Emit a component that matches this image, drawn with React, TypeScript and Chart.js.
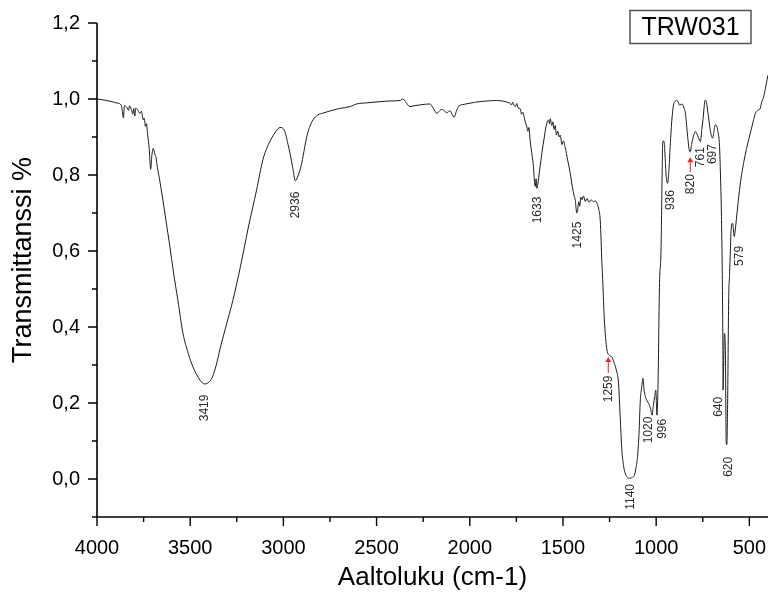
import React, { useEffect, useRef } from "react";
import { Chart, registerables } from "chart.js";

Chart.register(...registerables);

// ---- data ----
const wavenumber = [
  4000, 3960, 3920, 3890, 3870, 3862, 3858, 3853, 3840, 3830, 3826, 3815, 3808, 3803, 3797, 3792,
  3780, 3770, 3762, 3752, 3747, 3740, 3735, 3728, 3720, 3712, 3706, 3698, 3690, 3683, 3676, 3665,
  3650, 3630, 3610, 3590, 3566, 3539, 3510, 3485, 3447, 3421, 3400, 3384, 3360, 3341, 3320, 3298,
  3271, 3230, 3189, 3144, 3110, 3085, 3063, 3040, 3018, 2995, 2975, 2965, 2950, 2936, 2920, 2902,
  2885, 2875, 2860, 2841, 2815, 2787, 2740, 2700, 2642, 2607, 2550, 2482, 2420, 2374, 2365, 2358,
  2345, 2321, 2300, 2260, 2214, 2195, 2177, 2160, 2150, 2135, 2123, 2106, 2095, 2084, 2072, 2061,
  2030, 1998, 1950, 1900, 1855, 1820, 1790, 1775, 1770, 1766, 1755, 1748, 1740, 1730, 1722, 1715,
  1705, 1694, 1688, 1683, 1676, 1668, 1660, 1649, 1644, 1640, 1635, 1631, 1622, 1613, 1600, 1590,
  1578, 1572, 1568, 1560, 1554, 1548, 1542, 1535, 1528, 1520, 1515, 1505, 1498, 1488, 1475, 1461,
  1450, 1440, 1434, 1426, 1422, 1415, 1410, 1404, 1398, 1390, 1380, 1371, 1360, 1350, 1336, 1325,
  1318, 1308, 1300, 1291, 1286, 1279, 1264, 1250, 1237, 1225, 1214, 1202, 1193, 1184, 1175, 1166,
  1150, 1139, 1128, 1117, 1108, 1100, 1092, 1085, 1078, 1071, 1065, 1058, 1048, 1041, 1030, 1022,
  1015, 1008, 1002, 996, 990, 982, 974, 968, 965, 960, 956, 950, 946, 939, 932, 925,
  915, 907, 895, 888, 880, 874, 861, 850, 843, 831, 824, 817, 810, 805, 795, 790,
  778, 768, 763, 755, 749, 737, 730, 724, 716, 710, 697, 690, 683, 676, 670, 660,
  655, 650, 645, 642, 641, 638, 634, 629, 624, 621, 617, 611, 606, 602, 598, 590,
  581, 577, 570, 557, 545, 531, 515, 504, 490, 480, 468, 455, 441, 435, 423, 415,
  409, 400,
];

const transmittance = [
  1.0, 0.997, 0.993, 0.989, 0.984, 0.96, 0.95, 0.982, 0.978, 0.97, 0.982, 0.972, 0.96, 0.975, 0.955, 0.976,
  0.97, 0.962, 0.968, 0.945, 0.95, 0.928, 0.935, 0.905, 0.87, 0.815, 0.85, 0.87, 0.855, 0.845, 0.82, 0.79,
  0.745, 0.68, 0.615, 0.545, 0.47, 0.384, 0.33, 0.295, 0.26, 0.25, 0.255, 0.265, 0.3, 0.34, 0.38, 0.42,
  0.47, 0.56, 0.66, 0.76, 0.84, 0.875, 0.897, 0.915, 0.925, 0.918, 0.88, 0.858, 0.82, 0.785, 0.8, 0.83,
  0.875, 0.9, 0.925, 0.945, 0.958, 0.963, 0.97, 0.975, 0.98, 0.987, 0.99, 0.993, 0.995, 0.996, 0.999, 1.0,
  0.993, 0.98, 0.982, 0.985, 0.987, 0.975, 0.962, 0.97, 0.973, 0.968, 0.964, 0.969, 0.96, 0.952, 0.968, 0.98,
  0.986, 0.989, 0.993, 0.995, 0.996, 0.994, 0.99, 0.985, 0.992, 0.987, 0.98, 0.988, 0.976, 0.975, 0.96, 0.965,
  0.945, 0.927, 0.915, 0.925, 0.89, 0.86, 0.83, 0.77, 0.79, 0.765, 0.775, 0.79, 0.825, 0.858, 0.9, 0.93,
  0.945, 0.935, 0.948, 0.93, 0.94, 0.92, 0.93, 0.905, 0.915, 0.9, 0.905, 0.88, 0.89, 0.872, 0.84, 0.804,
  0.77, 0.745, 0.734, 0.7, 0.705, 0.73, 0.718, 0.742, 0.735, 0.745, 0.73, 0.738, 0.728, 0.735, 0.73, 0.732,
  0.726, 0.71, 0.68, 0.568, 0.515, 0.427, 0.34, 0.325, 0.32, 0.305, 0.287, 0.252, 0.164, 0.076, 0.035, 0.015,
  0.003, 0.002, 0.004, 0.01, 0.03, 0.059, 0.12, 0.208, 0.24, 0.265, 0.235, 0.217, 0.205, 0.199, 0.185, 0.168,
  0.195, 0.217, 0.234, 0.168, 0.25, 0.515, 0.6, 0.8, 0.883, 0.89, 0.88, 0.83, 0.796, 0.778, 0.81, 0.875,
  0.95, 0.984, 0.995, 0.996, 0.99, 0.984, 0.987, 0.975, 0.962, 0.901, 0.87, 0.861, 0.88, 0.892, 0.91, 0.914,
  0.905, 0.892, 0.888, 0.92, 0.945, 0.997, 0.99, 0.971, 0.94, 0.918, 0.897, 0.915, 0.932, 0.93, 0.918, 0.875,
  0.8, 0.7, 0.524, 0.34, 0.234, 0.3, 0.383, 0.349, 0.094, 0.09, 0.182, 0.471, 0.54, 0.6, 0.655, 0.673,
  0.638, 0.65, 0.682, 0.743, 0.79, 0.831, 0.87, 0.892, 0.92, 0.94, 0.962, 0.97, 0.976, 0.99, 1.006, 1.025,
  1.041, 1.063,
];

const xMajorTicks = [4000, 3500, 3000, 2500, 2000, 1500, 1000, 500];
const xMinorTicks = [3750, 3250, 2750, 2250, 1750, 1250, 750];
const yMajorTicks = [0, 0.2, 0.4, 0.6, 0.8, 1.0, 1.2];
const yMinorTicks = [-0.1, 0.1, 0.3, 0.5, 0.7, 0.9, 1.1];

const peakLabels = ["3419", "2936", "1633", "1425", "1259", "1140", "1020", "996", "936", "820", "761", "697", "640", "620", "579"];
const peakLabelWn = [3421, 2932, 1638, 1423, 1257, 1139, 1042, 966, 924, 817, 759, 697, 665, 611, 554];
const peakLabelT = [0.187, 0.721, 0.708, 0.642, 0.237, -0.047, 0.129, 0.132, 0.734, 0.776, 0.847, 0.855, 0.19, 0.032, 0.587];

const arrowWn = [1257, 817];
const arrowFromT = [0.279, 0.808];
const arrowToT = [0.321, 0.847];

const sampleName = "TRW031";
const xTitle = "Aaltoluku (cm-1)";
const yTitle = "Transmittanssi %";

const FONT = "'Liberation Sans', Arial, Helvetica, sans-serif";

const decorPlugin = {
  id: "decor",
  afterDraw(chart: any) {
    const { ctx, chartArea, scales } = chart;
    const xs = scales.x;
    const ys = scales.y;
    const left = chartArea.left;
    const bottom = chartArea.bottom;
    ctx.save();

    // axis lines
    ctx.strokeStyle = "#000";
    ctx.lineWidth = 1.6;
    ctx.beginPath();
    ctx.moveTo(left, ys.getPixelForValue(1.2));
    ctx.lineTo(left, bottom);
    ctx.lineTo(chartArea.right, bottom);
    ctx.stroke();

    // tick marks
    ctx.lineWidth = 1.4;
    ctx.beginPath();
    yMajorTicks.forEach((v) => {
      const p = ys.getPixelForValue(v);
      ctx.moveTo(left - 9, p);
      ctx.lineTo(left, p);
    });
    yMinorTicks.forEach((v) => {
      const p = ys.getPixelForValue(v);
      ctx.moveTo(left - 5, p);
      ctx.lineTo(left, p);
    });
    xMajorTicks.forEach((v) => {
      const p = xs.getPixelForValue(v);
      ctx.moveTo(p, bottom);
      ctx.lineTo(p, bottom + 9);
    });
    xMinorTicks.forEach((v) => {
      const p = xs.getPixelForValue(v);
      ctx.moveTo(p, bottom);
      ctx.lineTo(p, bottom + 5);
    });
    ctx.stroke();

    // peak labels (rotated)
    ctx.fillStyle = "#2b2b2b";
    ctx.font = `12px ${FONT}`;
    ctx.textAlign = "center";
    ctx.textBaseline = "middle";
    peakLabels.forEach((t, i) => {
      const px = xs.getPixelForValue(peakLabelWn[i]);
      const py = ys.getPixelForValue(peakLabelT[i]);
      ctx.save();
      ctx.translate(px, py);
      ctx.rotate(-Math.PI / 2);
      ctx.fillText(t, 0, 0);
      ctx.restore();
    });

    // red arrows
    ctx.strokeStyle = "#e8262a";
    ctx.fillStyle = "#e8262a";
    ctx.lineWidth = 1;
    arrowWn.forEach((w, i) => {
      const px = xs.getPixelForValue(w);
      const y0 = ys.getPixelForValue(arrowFromT[i]);
      const y1 = ys.getPixelForValue(arrowToT[i]);
      ctx.beginPath();
      ctx.moveTo(px, y0);
      ctx.lineTo(px, y1 + 4);
      ctx.stroke();
      ctx.beginPath();
      ctx.moveTo(px, y1);
      ctx.lineTo(px - 3, y1 + 5);
      ctx.lineTo(px + 3, y1 + 5);
      ctx.closePath();
      ctx.fill();
    });

    // sample legend box
    ctx.strokeStyle = "#555";
    ctx.lineWidth = 1.5;
    const bx = 630, by = 10.5, bw = 121, bh = 33;
    ctx.strokeRect(bx, by, bw, bh);
    ctx.fillStyle = "#000";
    ctx.font = `25px ${FONT}`;
    ctx.textAlign = "center";
    ctx.textBaseline = "middle";
    ctx.fillText(sampleName, bx + bw / 2, by + bh / 2 + 1);

    // axis titles
    ctx.font = `26px ${FONT}`;
    ctx.fillText(xTitle, (chartArea.left + chartArea.right) / 2, 578);
    ctx.save();
    ctx.translate(24, 260);
    ctx.rotate(-Math.PI / 2);
    ctx.font = `27px ${FONT}`;
    ctx.fillText(yTitle, 0, 0);
    ctx.restore();

    ctx.restore();
  },
};

export default function App() {
  const canvasRef = useRef<HTMLCanvasElement | null>(null);

  useEffect(() => {
    const canvas = canvasRef.current;
    if (!canvas) return;
    const chart = new Chart(canvas, {
      type: "line",
      data: {
        datasets: [
          {
            data: wavenumber.map((w, i) => ({ x: w, y: transmittance[i] })),
            borderColor: "#1c1c1c",
            borderWidth: 1,
            pointRadius: 0,
            cubicInterpolationMode: "monotone",
            fill: false,
          },
        ],
      },
      options: {
        animation: false,
        responsive: false,
        maintainAspectRatio: false,
        layout: { padding: { left: 0, right: 2, top: 23, bottom: 0 } },
        plugins: { legend: { display: false }, tooltip: { enabled: false } },
        scales: {
          x: {
            type: "linear",
            reverse: true,
            min: 400,
            max: 4000,
            afterBuildTicks: (s: any) => {
              s.ticks = xMajorTicks.map((v) => ({ value: v }));
            },
            afterFit: (s: any) => {
              s.height = 75;
              s.paddingLeft = 0;
              s.paddingRight = 0;
            },
            grid: { display: false, drawTicks: false },
            border: { display: false },
            ticks: {
              autoSkip: false,
              maxRotation: 0,
              padding: 19,
              color: "#000",
              font: { family: FONT, size: 20 },
              callback: (v: any) => String(v),
            },
          },
          y: {
            type: "linear",
            min: -0.1,
            max: 1.2,
            afterBuildTicks: (s: any) => {
              s.ticks = yMajorTicks.map((v) => ({ value: v }));
            },
            afterFit: (s: any) => {
              s.width = 97;
              s.paddingTop = 0;
              s.paddingBottom = 0;
            },
            grid: { display: false, drawTicks: false },
            border: { display: false },
            ticks: {
              padding: 17,
              color: "#000",
              font: { family: FONT, size: 20 },
              callback: (v: any) => Number(v).toFixed(1).replace(".", ","),
            },
          },
        },
      },
      plugins: [decorPlugin],
    } as any);
    return () => chart.destroy();
  }, []);

  return (
    <div style={{ position: "fixed", left: 0, top: 0, width: 770, height: 592, background: "#fff" }}>
      <canvas ref={canvasRef} width={770} height={592} style={{ width: 770, height: 592, display: "block" }} />
    </div>
  );
}
